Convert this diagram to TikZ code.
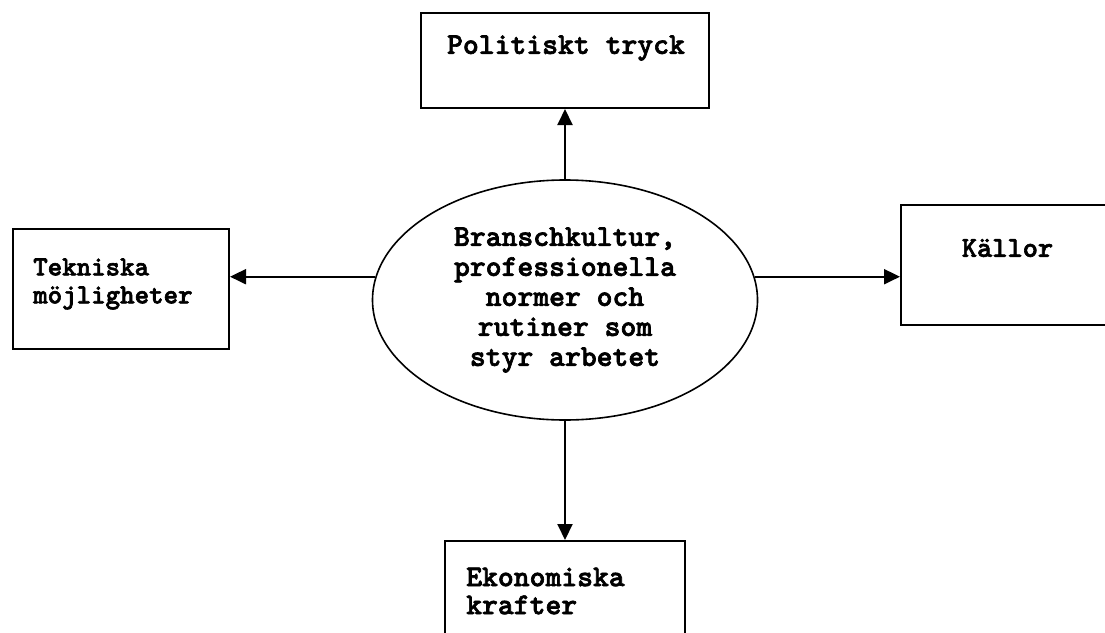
\documentclass[tikz,border=0pt]{standalone}
\usepackage{fontspec}
\usetikzlibrary{arrows.meta,shapes.geometric}
\newfontfamily\monofnt[FakeBold=2.2]{lmmonolt10-bold.otf}
\begin{document}
\begin{tikzpicture}[x=1pt,y=-1pt,
  boxst/.style={draw, line width=2pt, rectangle, inner sep=0pt},
  txt/.style={font=\monofnt\fontsize{30.2}{30}\selectfont, inner sep=0pt},
  arr/.style={draw, line width=2pt, -{Triangle[length=16pt,width=15pt]}}]
\useasboundingbox (0,0) rectangle (1105,632);
\clip (0,0) rectangle (1105,632);
\fill[white] (0,0) rectangle (1105,632);
% boxes
\node[boxst, minimum width=288pt, minimum height=95pt] (top) at (565,60.5) {};
\node[boxst, minimum width=216pt, minimum height=120pt] (lft) at (121,289) {};
\node[boxst, minimum width=230pt, minimum height=120pt] (rgt) at (1016,265) {};
\node[boxst, minimum width=240pt, minimum height=120pt] (bot) at (565,601) {};
% ellipse
\node[ellipse, draw, line width=1.6pt, minimum width=385pt, minimum height=240pt, inner sep=0pt,
      align=center, font=\monofnt\fontsize{30.2}{30}\selectfont] (ell) at (565,300)
  {Branschkultur,\\professionella\\normer och\\rutiner som\\styr arbetet};
% texts
\node[txt] (ttop) at (566,48) {Politiskt tryck};
\node[txt, font=\monofnt\fontsize{27.6}{28}\selectfont, align=left, anchor=west] (tlft) at (33,284) {Tekniska\\möjligheter};
\node[txt, font=\monofnt\fontsize{29}{30}\selectfont] (trgt) at (1007.5,248) {Källor};
\node[txt, font=\monofnt\fontsize{30.2}{28}\selectfont, align=left, anchor=west] (tbot) at (466,591) {Ekonomiska\\krafter};
% arrows
\draw[arr] (ell.north) -- (top.south);
\draw[arr] (ell.south) -- (bot.north);
\draw[arr] (ell.173) -- (ell.173 -| lft.east);
\draw[arr] (ell.7) -- (ell.7 -| rgt.west);
\end{tikzpicture}
\end{document}
